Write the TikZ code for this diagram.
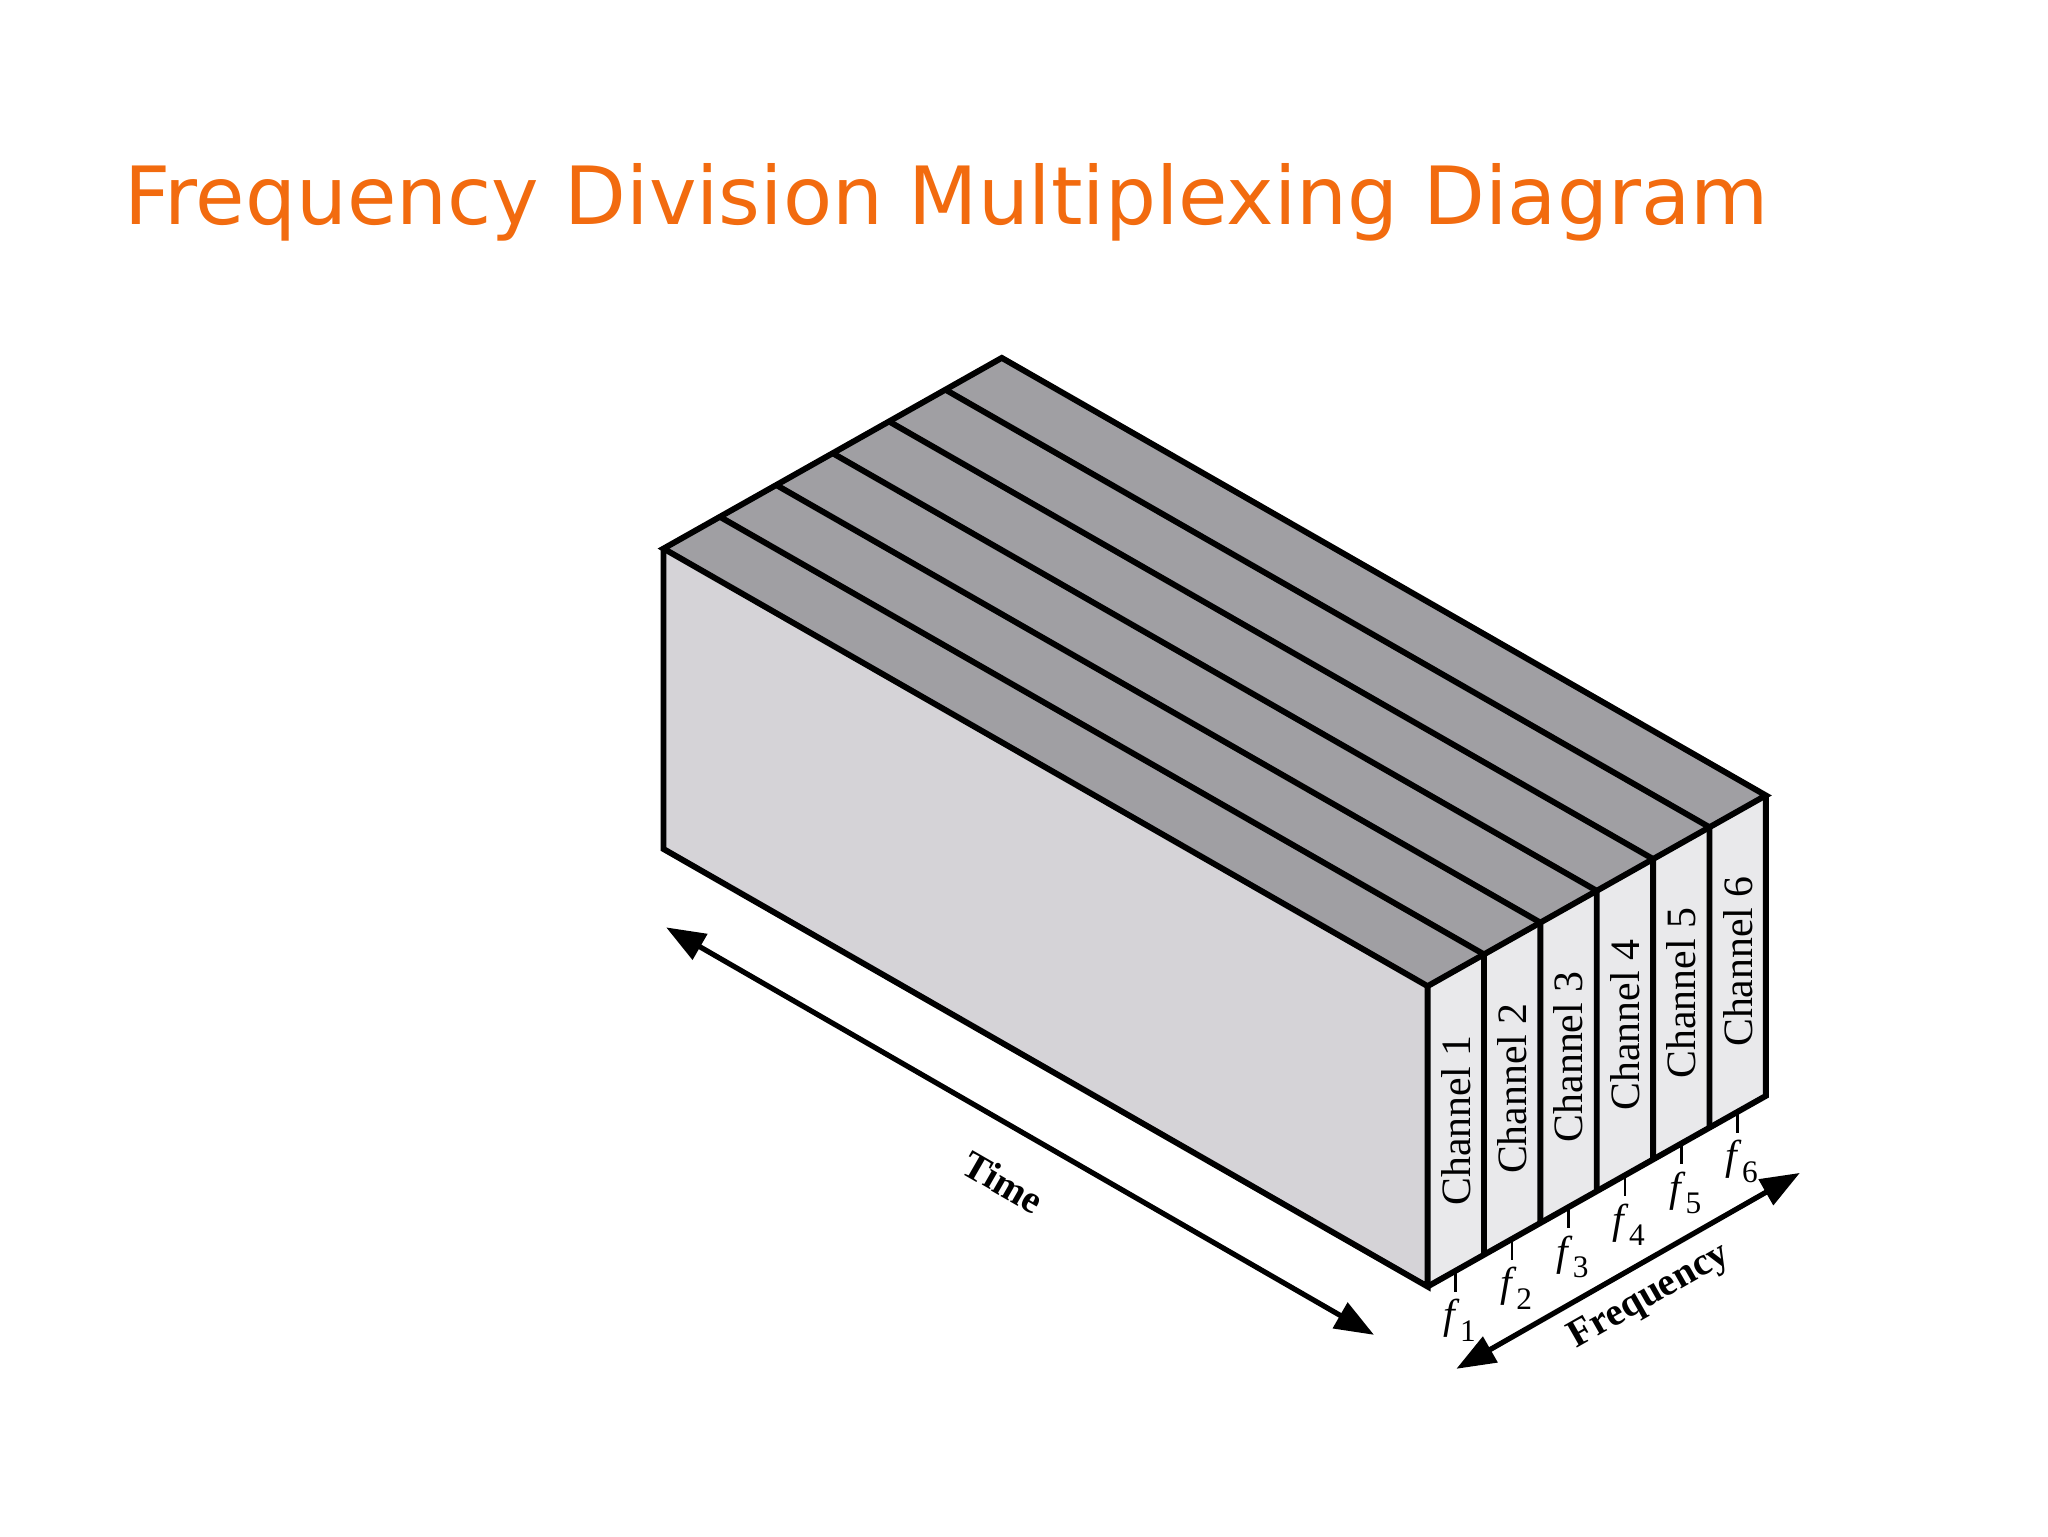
\documentclass[tikz,border=0pt]{standalone}
\usepackage{fontspec}
\setmainfont{Liberation Serif}
\newfontfamily\titlefont{DejaVu Sans}
\usetikzlibrary{arrows.meta,calc}
\definecolor{topc}{HTML}{A09FA3}
\definecolor{frontc}{HTML}{D5D3D7}
\definecolor{endc}{HTML}{E9E9EB}
\definecolor{titlec}{HTML}{F26B0F}
\begin{document}
\begin{tikzpicture}[x=1pt,y=-1pt,line join=miter,
  edge/.style={line width=4.5pt},
  arr/.style={line width=4pt,{Triangle[length=30pt,width=22pt]}-{Triangle[length=30pt,width=22pt]}},
  chan/.style={rotate=90,font=\fontsize{32}{32}\selectfont},
  flab/.style={font=\fontsize{32}{32}\selectfont,inner sep=0}]
\useasboundingbox (0,0) rectangle (1568,1176);
\node[anchor=base west,text=titlec,font=\titlefont\fontsize{61.5}{62}\selectfont,inner sep=0] (title) at (95,172) {Frequency Division Multiplexing Diagram};
\coordinate (A) at (508,420);
\coordinate (T) at (585,335);
\coordinate (F) at (259,-146);
\coordinate (H) at (0,230);
\coordinate (P) at ($(A)+(T)$);
\fill[frontc] (A) -- (P) -- ($(P)+(H)$) -- ($(A)+(H)$) -- cycle;
\fill[topc] (A) -- (P) -- ($(P)+(F)$) -- ($(A)+(F)$) -- cycle;
\fill[endc] (P) -- ($(P)+(F)$) -- ($(P)+(F)+(H)$) -- ($(P)+(H)$) -- cycle;
\foreach \i in {1,...,5}{
  \coordinate (d\i) at ($(P)+\i/6*(F)$);
  \draw[edge] ($(A)+\i/6*(F)$) -- (d\i) -- ($(d\i)+(H)$);
}
\draw[edge] (A) -- (P) -- ($(P)+(F)$) -- ($(A)+(F)$) -- cycle;
\draw[edge] (A) -- ($(A)+(H)$) -- ($(P)+(H)$) -- (P);
\draw[edge] ($(P)+(F)$) -- ($(P)+(F)+(H)$) -- ($(P)+(H)$);
\foreach \i in {1,...,6}{
  \coordinate (m\i) at ($(P)+{(\i-0.5)/6}*(F)+(H)$);
  \node[chan] (c\i) at ($(m\i)+(0,-115)$) {Channel \i};
  \draw[line width=2pt] (m\i) -- ++(0,16);
  \node[flab] (f\i) at ($(m\i)+(3,38)$) {\textit{f}\raisebox{-0.3em}{\fontsize{24}{24}\selectfont\i}};
}
\coordinate (t1) at (510,710); \coordinate (t2) at (1052,1022);
\draw[arr] (t1) -- (t2);
\node[rotate=-29.9,font=\fontsize{30}{30}\selectfont\bfseries] (time) at (768,905) {Time};
\coordinate (q1) at (1115,1048); \coordinate (q2) at (1378,898);
\draw[arr] (q1) -- (q2);
\node[rotate=29.7,font=\fontsize{30}{30}\selectfont\bfseries] (freq) at (1263,993) {Frequency};
\end{tikzpicture}
\end{document}
